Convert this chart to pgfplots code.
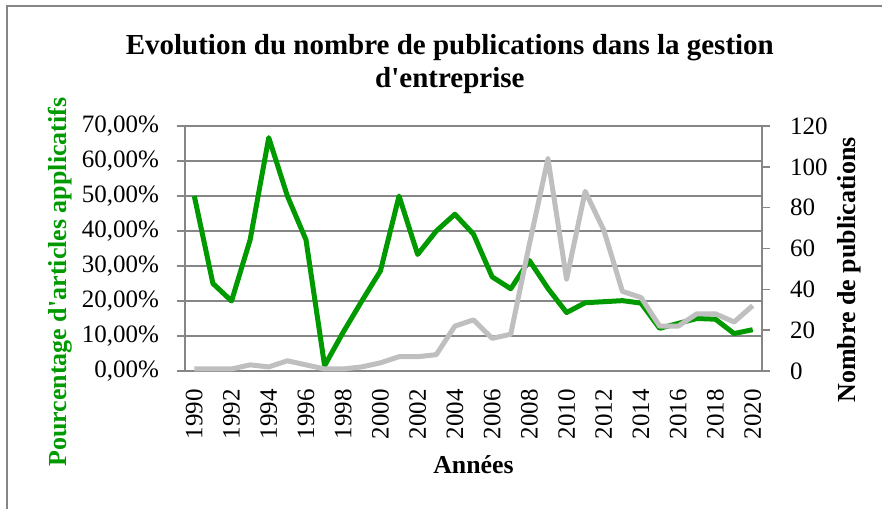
\documentclass[border=0pt]{standalone}
\usepackage{pgfplots}
\pgfplotsset{compat=1.18}
\usepackage{fontspec}
\setmainfont{Liberation Serif}[Ligatures=TeXOff]
\definecolor{cgreen}{HTML}{009900}
\definecolor{cgray}{HTML}{BFBFBF}
\definecolor{cgrid}{HTML}{868686}
\begin{document}
\begin{tikzpicture}
\useasboundingbox (0,0) rectangle (441pt,254pt);
\draw[cgrid, line width=1pt] (3.5pt,-20pt) -- (3.5pt,251pt) -- (460pt,251pt);
\begin{axis}[
  at={(92.5pt,68.5pt)}, anchor=south west,
  scale only axis, width=288.5pt, height=122.5pt,
  xmin=1989.5, xmax=2020.5, ymin=0, ymax=70,
  axis y line*=left, axis x line*=bottom,
  axis line style={cgrid, line width=0.75pt},
  xtick={1990,1992,...,2020},
  xtick style={draw=none},
  minor xtick={1989.5,1990.5,...,2020.5},
  minor x tick style={cgrid, line width=0.75pt},
  minor tick length=4pt,
  ytick={0,10,...,70},
  ytick style={cgrid, line width=0.75pt},
  major tick length=4pt,
  tick align=outside,
  ymajorgrids, grid style={cgrid, line width=0.75pt},
  /pgf/number format/assume math mode=true,
  /pgf/number format/set thousands separator={},
  xticklabel style={rotate=90, anchor=east, yshift=0pt, xshift=-1.5pt, font=\fontsize{12.5}{12.5}\selectfont},
  yticklabel style={font=\fontsize{12.5}{12.5}\selectfont, xshift=-5.5pt},
  yticklabel={\pgfmathprintnumber[fixed,fixed zerofill,precision=2,use comma]{\tick}\%},
  xlabel={Années}, ylabel={Pourcentage d'articles applicatifs},
  xlabel style={font=\fontsize{12.9}{13}\selectfont\bfseries, at={(axis description cs:0.5,-0.384)}, anchor=center},
  ylabel style={font=\fontsize{13}{13}\selectfont\bfseries, text=cgreen, at={(axis description cs:-0.2166,0.363)}, anchor=center},
  title={Evolution du nombre de publications dans la gestion\\d'entreprise},
  title style={font=\fontsize{14.5}{16.5}\selectfont\bfseries, align=center, at={(axis description cs:0.459,1.355)}, anchor=north},
  clip=false,
]
\addplot[cgreen, line width=2.5pt, line join=round] coordinates {
(1990,50) (1991,25) (1992,20) (1993,37.5) (1994,66.67) (1995,50) (1996,37.5)
(1997,1.5) (1998,11.1) (1999,20) (2000,28.6) (2001,50) (2002,33.3) (2003,40)
(2004,44.8) (2005,39.1) (2006,26.9) (2007,23.5) (2008,31.6) (2009,23.6)
(2010,16.7) (2011,19.5) (2012,19.8) (2013,20.1) (2014,19.4) (2015,12.2)
(2016,13.6) (2017,15.0) (2018,14.8) (2019,10.7) (2020,11.8)
};
\end{axis}
\begin{axis}[
  at={(92.5pt,68.5pt)}, anchor=south west,
  scale only axis, width=288.5pt, height=122.5pt,
  xmin=1989.5, xmax=2020.5, ymin=0, ymax=120,
  axis y line*=right, axis x line=none,
  axis line style={cgrid, line width=0.75pt},
  ytick={0,20,...,120},
  ytick style={cgrid, line width=0.75pt},
  major tick length=4pt,
  tick align=outside,
  /pgf/number format/assume math mode=true,
  yticklabel style={font=\fontsize{12.5}{12.5}\selectfont, xshift=6.5pt},
  ylabel={Nombre de publications},
  ylabel style={font=\fontsize{13}{13}\selectfont\bfseries, at={(axis description cs:1.1508,0.412)}, anchor=center},
  clip=false,
]
\addplot[cgray, line width=2.5pt, line join=round] coordinates {
(1990,1) (1991,1) (1992,1) (1993,3) (1994,2) (1995,5) (1996,3) (1997,1)
(1998,1) (1999,2) (2000,4) (2001,7) (2002,7) (2003,8) (2004,22) (2005,25)
(2006,16) (2007,18) (2008,62) (2009,104) (2010,45) (2011,88) (2012,69)
(2013,39) (2014,36) (2015,22) (2016,22) (2017,28) (2018,28) (2019,24) (2020,32)
};
\end{axis}
\end{tikzpicture}
\end{document}
